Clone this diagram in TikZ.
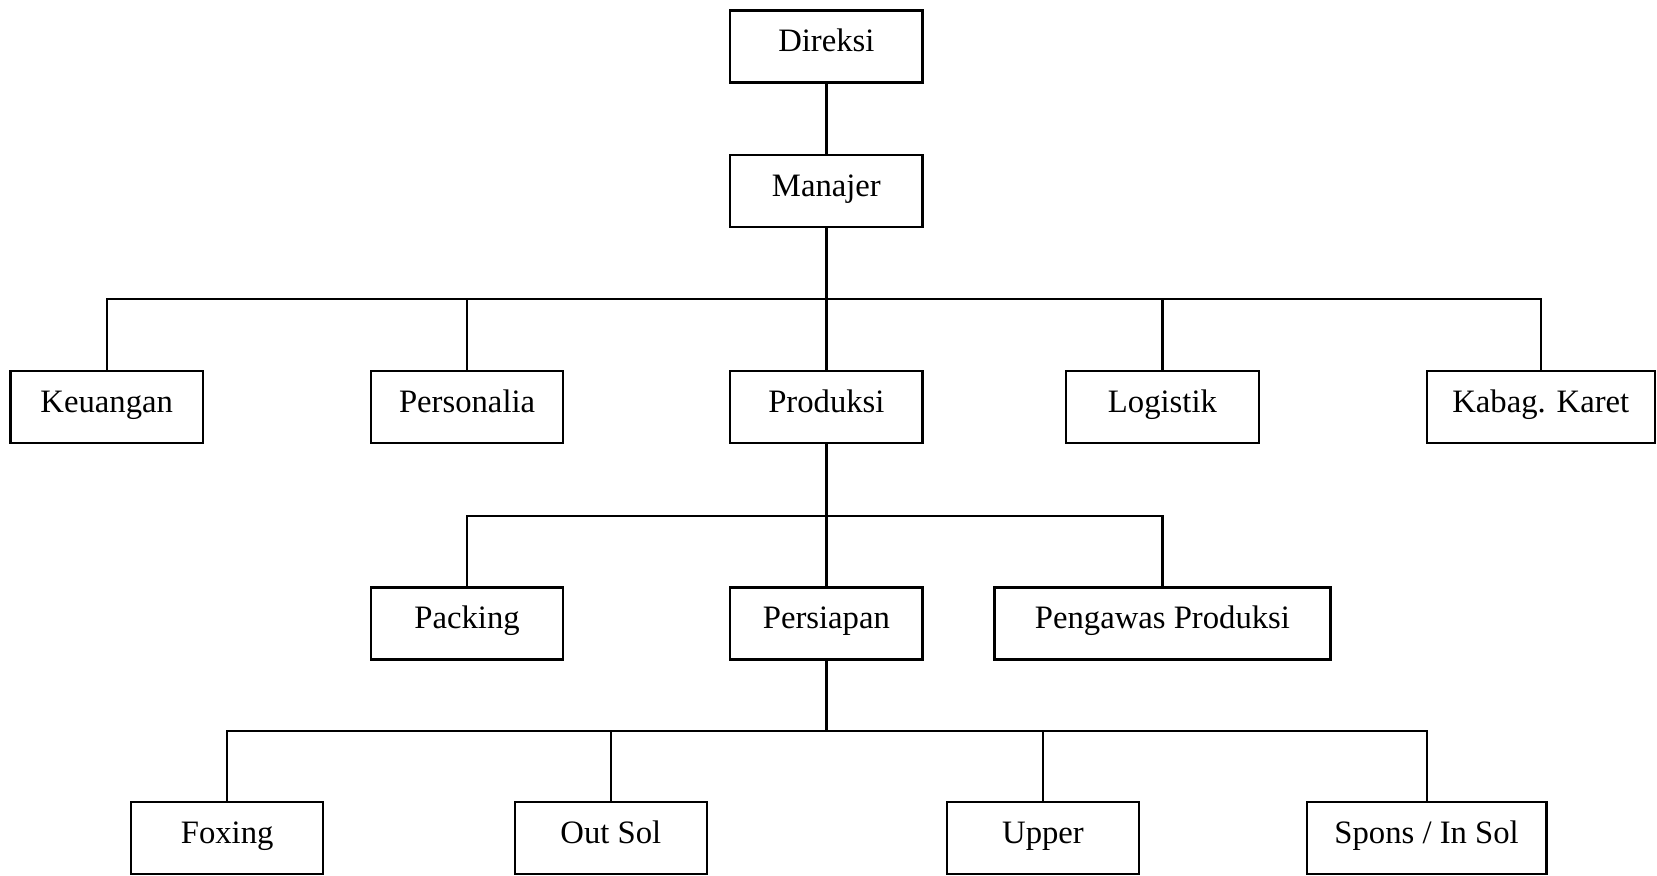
\documentclass[tikz,border=0pt]{standalone}
\usepackage{fontspec}
\setmainfont{Liberation Serif}

\begin{document}
\begin{tikzpicture}[line width=0.6pt,
    unit/.style={draw,minimum width=1.82cm,minimum height=0.68cm,inner sep=0pt,
        text height=6pt,text depth=3.15pt,font=\fontsize{8.8}{10}\selectfont}]
            \useasboundingbox (0,0) rectangle (15.68,8.28);
            \node[unit] (direksi) at (7.82,7.84) {Direksi};
            \node[unit] (manajer) at (7.82,6.47) {Manajer};
            \node[unit] (keuangan) at (1.01,4.43) {Keuangan};
            \node[unit] (personalia) at (4.42,4.43) {Personalia};
            \node[unit] (produksi) at (7.82,4.43) {Produksi};
            \node[unit] (logistik) at (11.00,4.43) {Logistik};
            \node[unit,minimum width=2.16cm] (karet) at (14.58,4.43) {Kabag. Karet};
            \node[unit] (packing) at (4.42,2.38) {Packing};
            \node[unit] (persiapan) at (7.82,2.38) {Persiapan};
            \node[unit,minimum width=3.18cm] (pengawas) at (11.00,2.38) {Pengawas Produksi};
            \node[unit] (foxing) at (2.15,0.35) {Foxing};
            \node[unit] (outsol) at (5.78,0.35) {Out Sol};
            \node[unit] (upper) at (9.87,0.35) {Upper};
            \node[unit,minimum width=2.27cm] (spons) at (13.50,0.35) {Spons / In Sol};
            \coordinate (bagian) at (7.82,5.45);
            \coordinate (seksi) at (7.82,3.40);
            \coordinate (kerja) at (7.82,1.36);
            \draw (direksi) -- (manajer);
            \draw (manajer.south) -- (produksi.north);
            \draw (keuangan.north) |- (bagian);
            \draw (personalia.north) |- (bagian);
            \draw (logistik.north) |- (bagian);
            \draw (karet.north) |- (bagian);
            \draw (produksi.south) -- (persiapan.north);
            \draw (packing.north) |- (seksi);
            \draw (pengawas.north) |- (seksi);
            \draw (persiapan.south) -- (kerja);
            \draw (foxing.north) |- (kerja);
            \draw (outsol.north) |- (kerja);
            \draw (upper.north) |- (kerja);
            \draw (spons.north) |- (kerja);
        \end{tikzpicture}
\end{document}
